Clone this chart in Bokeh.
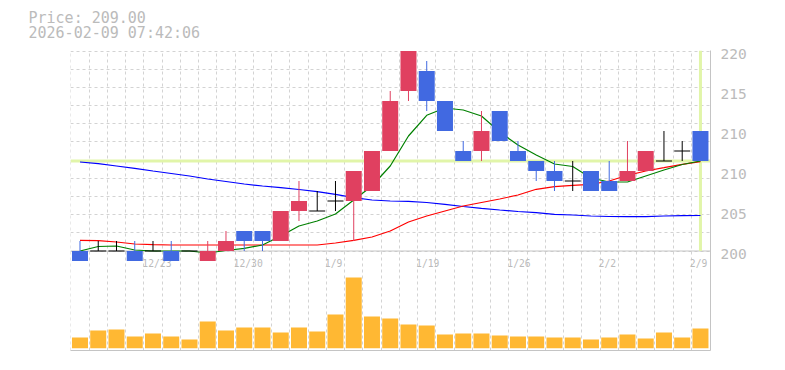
from bokeh.plotting import figure
from bokeh.models import Range1d, FixedTicker, Span, Title
from bokeh.core.properties import value
from bokeh.embed import file_html
from bokeh.resources import INLINE

dates = ["12/17", "12/18", "12/19", "12/22", "12/23", "12/24", "12/25", "12/26", "12/29", "12/30",
         "1/5", "1/6", "1/7", "1/8", "1/9", "1/13", "1/14", "1/15", "1/16", "1/19",
         "1/20", "1/21", "1/22", "1/23", "1/26", "1/27", "1/28", "1/29", "1/30", "2/2",
         "2/3", "2/4", "2/5", "2/6", "2/9"]
opens = [200, 200, 200, 200, 200, 200, 200, 199, 200, 202, 202, 201, 204, 204, 205, 205, 206, 210, 216, 218,
         215, 210, 210, 214, 210, 209, 208, 207, 208, 207, 207, 208, 209, 210, 212]
highs = [201, 201, 201, 201, 201, 201, 200, 201, 202, 202, 202, 204, 207, 206, 207, 208, 210, 216, 220, 219,
         215, 211, 214, 214, 211, 209, 209, 209, 208, 209, 211, 210, 212, 211, 212]
lows = [199, 200, 200, 199, 200, 199, 200, 199, 200, 200, 200, 201, 203, 204, 204, 201, 206, 210, 215, 214,
        212, 209, 209, 211, 209, 207, 206, 206, 206, 206, 207, 208, 209, 209, 209]
closes = [199, 200, 200, 199, 200, 199, 200, 200, 201, 201, 201, 204, 205, 204, 205, 208, 210, 215, 220, 215,
          212, 209, 212, 211, 209, 208, 207, 207, 206, 206, 208, 210, 209, 210, 209]
volumes = [3200, 5300, 5600, 3500, 4400, 3500, 2600, 8000, 5300, 6200, 6200, 4700, 6200, 5000, 10100,
           21200, 9500, 8900, 7100, 6800, 4100, 4400, 4400, 3800, 3500, 3500, 3200, 3200, 2600, 3200,
           4100, 2900, 4700, 3200, 5900]
ma_short = [200.0, 200.45, 200.5, 200.1, 200.0, 200.0, 200.0, 199.8, 200.05, 200.27, 200.6, 201.5, 202.5,
            203.0, 203.7, 205.1, 206.5, 208.5, 211.5, 213.57, 214.3, 214.1, 213.5, 211.9, 210.6, 209.6,
            208.7, 208.45, 207.3, 206.9, 206.9, 207.5, 208.1, 208.65, 209.0]
ma_mid = [201.07, 201.03, 200.9, 200.7, 200.63, 200.6, 200.6, 200.6, 200.6, 200.6, 200.6, 200.6, 200.6,
          200.6, 200.8, 201.07, 201.4, 202.0, 202.9, 203.5, 204.0, 204.5, 204.85, 205.2, 205.6, 206.17,
          206.43, 206.57, 206.67, 207.0, 207.57, 208.0, 208.33, 208.67, 208.93]
ma_long = [208.9, 208.73, 208.5, 208.27, 208.0, 207.75, 207.5, 207.2, 206.95, 206.7, 206.5, 206.33, 206.15,
           205.93, 205.67, 205.33, 205.1, 205.0, 204.97, 204.85, 204.67, 204.45, 204.27, 204.1, 203.95,
           203.83, 203.67, 203.6, 203.5, 203.45, 203.43, 203.43, 203.5, 203.53, 203.55]
label_dates = ["12/23", "12/30", "1/9", "1/19", "1/26", "2/2", "2/9"]
price_ticks = [200, 204, 208, 212, 216, 220]
price_tick_labels = ["200", "205", "210", "210", "215", "220"]
last_price = 209.00
timestamp = "2026-02-09 07:42:06"

UP = "#e04060"
DOWN = "#4169e1"
FLAT = "#000000"
VOL = "#ffb833"
HILITE = "#e1f5a9"
GRID = "#d3d3d3"
AXIS = "#c4c4c4"
TXT = "#bbbbbb"
FONT = "DejaVu Sans Mono"

n = len(dates)
idx = list(range(n))
bw = 0.877

p = figure(width=768, height=362, output_backend="svg", toolbar_location=None,
           x_range=Range1d(-0.52, n - 0.45), y_range=Range1d(190.05, 220.05),
           y_axis_location="right", min_border_left=70, min_border_right=58,
           min_border_top=50, min_border_bottom=12)
p.outline_line_color = None
p.extra_y_ranges = {"vol": Range1d(-690, 89310)}

# right price axis
shift = -0.27
ticks = [t + shift for t in price_ticks]
p.yaxis.ticker = FixedTicker(ticks=ticks)
p.yaxis.major_label_overrides = {t: lab for t, lab in zip(ticks, price_tick_labels)}
p.yaxis.major_tick_out = 0
p.yaxis.major_tick_in = 0
p.yaxis.minor_tick_out = 0
p.yaxis.minor_tick_in = 0
p.yaxis.axis_line_color = AXIS
p.yaxis.major_label_text_font = FONT
p.yaxis.major_label_text_font_size = "14.5px"
p.yaxis.major_label_text_color = TXT
p.yaxis.major_label_standoff = 10

# bottom axis line only
p.xaxis.ticker = FixedTicker(ticks=[])
p.xaxis.major_tick_out = 0
p.xaxis.major_tick_in = 0
p.xaxis.minor_tick_out = 0
p.xaxis.minor_tick_in = 0
p.xaxis.major_label_text_font_size = "0px"
p.xaxis.axis_line_color = AXIS

# grids
p.xgrid.ticker = FixedTicker(ticks=[i - 0.5 for i in idx])
p.ygrid.ticker = FixedTicker(ticks=[200 + i * 20 / 11 for i in range(12)])
for g in (p.xgrid, p.ygrid):
    g.grid_line_color = GRID
    g.grid_line_dash = "3 3"
    g.grid_line_width = 1

p.add_layout(Span(location=200, dimension="width", line_color=AXIS, line_width=1, level="underlay"))
p.add_layout(Span(location=last_price, dimension="width", line_color=HILITE, line_width=3, level="underlay"))
p.segment(x0=[n - 1], y0=[200], x1=[n - 1], y1=[220.05], line_color=HILITE, line_width=3)

# date labels
lx = [dates.index(d) - 0.5 for d in label_dates]
p.text(x=lx, y=[198.8] * len(lx), text=label_dates, text_font=value(FONT), text_font_size="9.7px",
       text_color=TXT, text_align="left", text_baseline="middle", x_offset=-1.5)

# moving averages
p.line(idx, ma_long, line_color="#0000ff", line_width=1.2)
p.line(idx, ma_mid, line_color="#ff0000", line_width=1.2)
p.line(idx, ma_short, line_color="#008000", line_width=1.2)

# volume
p.vbar(x=idx, top=volumes, bottom=0, width=bw, y_range_name="vol", fill_color=VOL, line_color=None)

# candles
cols = [UP if c > o else (DOWN if c < o else FLAT) for o, c in zip(opens, closes)]
p.segment(x0=idx, y0=highs, x1=idx, y1=lows, line_color=cols, line_width=1)
bx = [i for i in idx if opens[i] != closes[i]]
p.vbar(x=bx, top=[max(opens[i], closes[i]) for i in bx], bottom=[min(opens[i], closes[i]) for i in bx],
       width=bw, fill_color=[cols[i] for i in bx], line_color=None)
dx = [i for i in idx if opens[i] == closes[i]]
p.segment(x0=[i - bw / 2 for i in dx], y0=[opens[i] for i in dx], x1=[i + bw / 2 for i in dx],
          y1=[opens[i] for i in dx], line_color=FLAT, line_width=1.2)

# two-line header
header = f"Price: {last_price:.2f}\n{timestamp}"
p.add_layout(Title(text=header, align="left", offset=-42, standoff=15, vertical_align="middle",
                   text_font=FONT, text_font_size="15px", text_font_style="normal", text_color=TXT,
                   text_line_height=0.81), "above")

open("out.html", "w").write(file_html(p, INLINE))
